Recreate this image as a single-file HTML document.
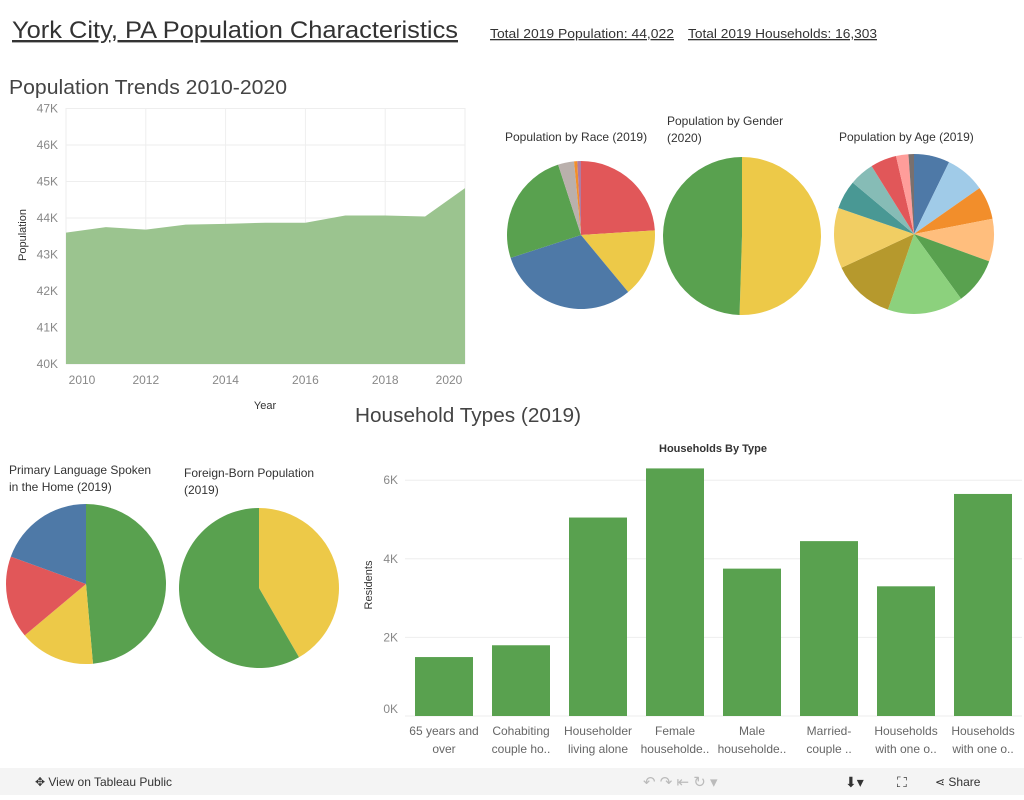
<!DOCTYPE html>
<html><head><meta charset="utf-8"><style>
body{margin:0;width:1024px;height:795px;overflow:hidden;background:#fff;font-family:"Liberation Sans",sans-serif}
svg text{font-family:"Liberation Sans",sans-serif}
</style></head><body>
<svg id="s" width="1024" height="795" xmlns="http://www.w3.org/2000/svg">
<text x="12" y="38" font-size="24" fill="#333" text-decoration="underline" textLength="446" lengthAdjust="spacingAndGlyphs">York City, PA Population Characteristics</text>
<text x="490" y="38" font-size="13" fill="#333" text-decoration="underline" textLength="184" lengthAdjust="spacingAndGlyphs">Total 2019 Population: 44,022</text>
<text x="688" y="38" font-size="13" fill="#333" text-decoration="underline" textLength="189" lengthAdjust="spacingAndGlyphs">Total 2019 Households: 16,303</text>
<text x="9" y="94" font-size="20" fill="#444" textLength="278" lengthAdjust="spacingAndGlyphs">Population Trends 2010-2020</text>
<text x="355" y="422" font-size="20" fill="#444" textLength="226" lengthAdjust="spacingAndGlyphs">Household Types (2019)</text>
<g id="area"></g><g id="pies"></g><g id="bars"></g>
<rect x="0" y="768" width="1024" height="27" fill="#f4f4f4"/>
<text x="35" y="786" font-size="12" fill="#333">✥  View on Tableau Public</text>
<text x="643" y="787" font-size="15" fill="#bbb">↶   ↷   ⇤   ↻ ▾</text>
<text x="845" y="787" font-size="14" fill="#333">⬇▾</text>
<text x="897" y="787" font-size="14" fill="#333">⛶</text>
<text x="935" y="786" font-size="12" fill="#333">⋖ Share</text>
</svg>
<script>
const years=[2010,2011,2012,2013,2014,2015,2016,2017,2018,2019,2020];
const pop=[43.6,43.75,43.68,43.82,43.84,43.87,43.87,44.07,44.07,44.04,44.82];
const popTicks=[40,41,42,43,44,45,46,47];
const yearTicks=[2010,2012,2014,2016,2018,2020];
const barCats=[["65 years and","over"],["Cohabiting","couple ho.."],["Householder","living alone"],["Female","householde.."],["Male","householde.."],["Married-","couple .."],["Households","with one o.."],["Households","with one o.."]];
const barVals=[1.5,1.8,5.05,6.3,3.75,4.45,3.3,5.65];
const barTicks=[0,2,4,6];
const raceVals=[24,15,31,25,3.5,0.7,0.8];
const raceCols=["#e15759","#edc948","#4e79a7","#59a14f","#bab0ac","#f28e2b","#b07aa1"];
const genderVals=[50.5,49.5];
const genderCols=["#edc948","#59a14f"];
const ageVals=[26,29,24,31,34,55,46,44,21,18,19,9,4];
const ageCols=["#4e79a7","#a0cbe8","#f28e2b","#ffbe7d","#59a14f","#8cd17d","#b6992d","#f1ce63","#499894","#86bcb6","#e15759","#ff9d9a","#79706e"];
const langVals=[175,55,60,70];
const langCols=["#59a14f","#edc948","#e15759","#4e79a7"];
const fbVals=[150,210];
const fbCols=["#edc948","#59a14f"];
const NS="http://www.w3.org/2000/svg";
function mk(p,t,a){const e=document.createElementNS(NS,t);for(const k in a)e.setAttribute(k,a[k]);p.appendChild(e);return e;}
const A=document.getElementById('area');
const ax=y=>66+(y-2010)*39.9, ay=v=>218-(v-44)*36.5;
popTicks.forEach(t=>{const l=mk(A,'line',{x1:66,x2:465,y1:ay(t),y2:ay(t),stroke:'#eee'});
const tx=mk(A,'text',{x:58,y:ay(t)+4,'font-size':12,fill:'#888','text-anchor':'end'});tx.textContent=t+'K';});
yearTicks.forEach(t=>{const l=mk(A,'line',{x1:ax(t),x2:ax(t),y1:108,y2:364,stroke:'#eee'});
const tx=mk(A,'text',{x:t==2010?82:t==2020?449:ax(t),y:384,'font-size':12,fill:'#888','text-anchor':'middle'});tx.textContent=t;});
let d='M'+ax(years[0])+','+ay(40);years.forEach((y,i)=>d+='L'+ax(y)+','+ay(pop[i]));d+='L'+ax(2020)+','+ay(40)+'Z';
const ar=mk(A,'path',{d:d,fill:'#9bc48f'});
let t1=mk(A,'text',{x:265,y:409,'font-size':11,fill:'#333','text-anchor':'middle'});t1.textContent='Year';
let t2=mk(A,'text',{x:26,y:235,'font-size':11,fill:'#333','text-anchor':'middle',transform:'rotate(-90 26 235)'});t2.textContent='Population';
const P=document.getElementById('pies');
function pie(name,cx,cy,r,vals,cols,titles,tx,ty){
 const tot=vals.reduce((a,b)=>a+b,0);let a0=0;
 vals.forEach((v,i)=>{const a1=a0+v/tot*2*Math.PI;
  const x0=cx+r*Math.sin(a0),y0=cy-r*Math.cos(a0),x1=cx+r*Math.sin(a1),y1=cy-r*Math.cos(a1);
  const p=mk(P,'path',{d:`M${cx},${cy}L${x0},${y0}A${r},${r} 0 ${a1-a0>Math.PI?1:0} 1 ${x1},${y1}Z`,fill:cols[i]});
  a0=a1;});
 titles.forEach((t,i)=>{const e=mk(P,'text',{x:tx,y:ty+i*17,'font-size':12,fill:'#333'});e.textContent=t;});
}
pie('race-pie',581,235,74,raceVals,raceCols,['Population by Race (2019)'],505,141);
pie('gender-pie',742,236,79,genderVals,genderCols,['Population by Gender','(2020)'],667,125);
pie('age-pie',914,234,80,ageVals,ageCols,['Population by Age (2019)'],839,141);
pie('language-pie',86,584,80,langVals,langCols,['Primary Language Spoken','in the Home (2019)'],9,474);
pie('foreign-born-pie',259,588,80,fbVals,fbCols,['Foreign-Born Population','(2019)'],184,477);
const B=document.getElementById('bars');
const by=v=>716-v*39.3, bx=i=>444+i*77;
let bt=mk(B,'text',{x:713,y:452,'font-size':11,fill:'#333','text-anchor':'middle','font-weight':'bold'});bt.textContent='Households By Type';
barTicks.forEach(t=>{const l=mk(B,'line',{x1:405,x2:1022,y1:by(t),y2:by(t),stroke:'#eee'});
const e=mk(B,'text',{x:398,y:by(t)+(t==0?-3:4),'font-size':12,fill:'#888','text-anchor':'end'});e.textContent=t+'K';});
let yt=mk(B,'text',{x:372,y:585,'font-size':11,fill:'#333','text-anchor':'middle',transform:'rotate(-90 372 585)'});yt.textContent='Residents';
barVals.forEach((v,i)=>{const r=mk(B,'rect',{x:bx(i)-29,y:by(v),width:58,height:by(0)-by(v),fill:'#59a14f'});
 barCats[i].forEach((s,j)=>{const e=mk(B,'text',{x:bx(i),y:735+j*18,'font-size':12,fill:'#666','text-anchor':'middle'});e.textContent=s;});});
</script>
</body></html>
